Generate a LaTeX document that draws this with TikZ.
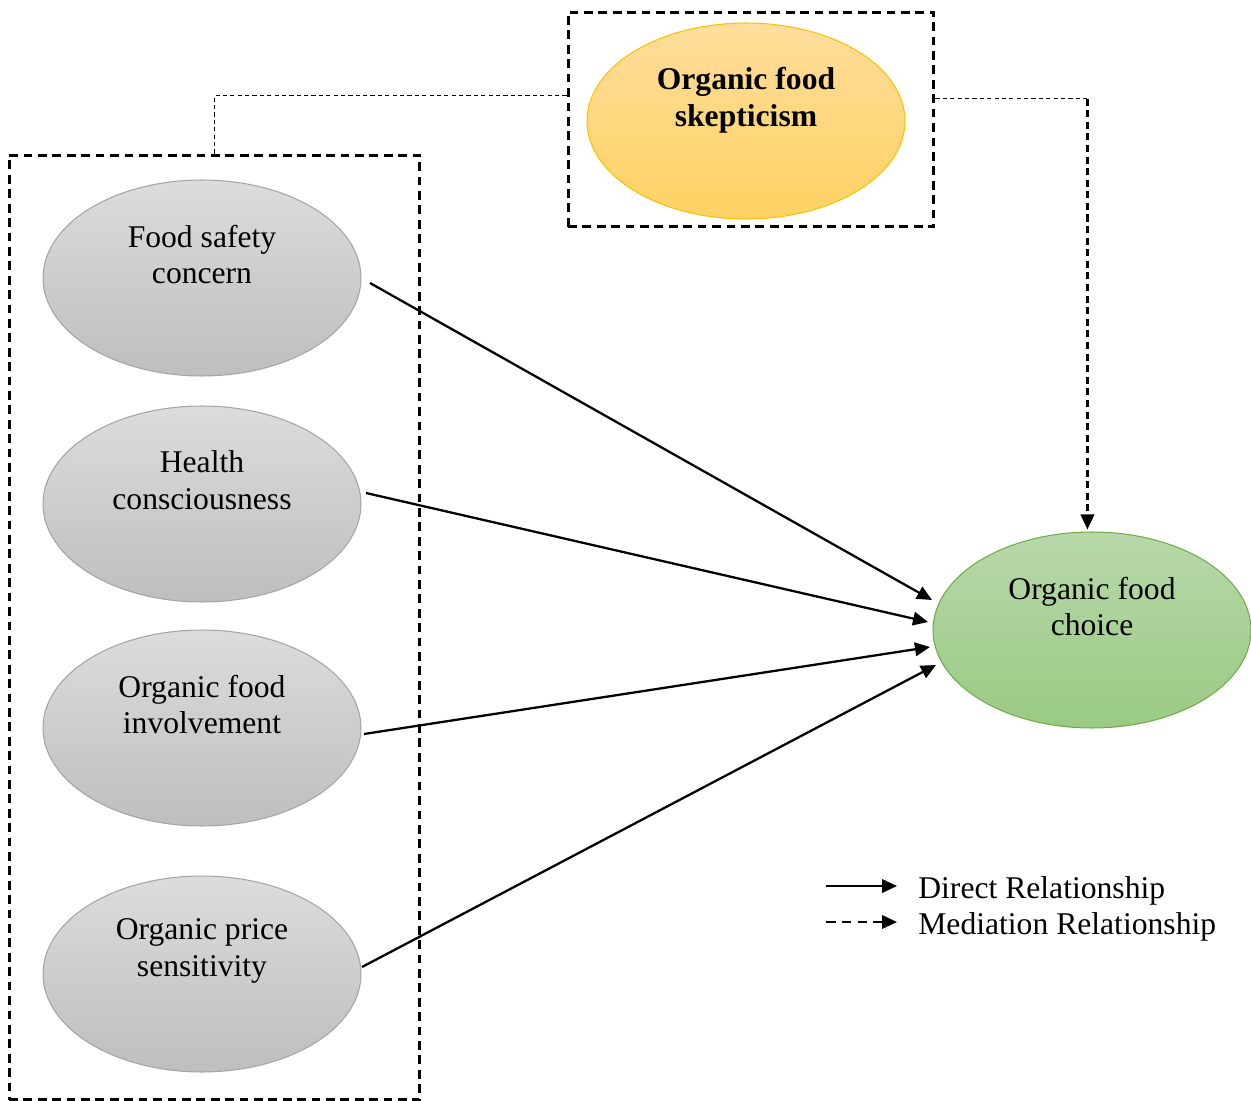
\documentclass[tikz,border=0pt]{standalone}
\usepackage{fontspec}
\setmainfont{Liberation Serif}
\usetikzlibrary{shapes.geometric,arrows.meta,calc}
\definecolor{graytop}{HTML}{DCDCDC}
\definecolor{graybot}{HTML}{BEBEBE}
\definecolor{ellgray}{HTML}{A5A5A5}
\definecolor{orgtop}{HTML}{FFDD9C}
\definecolor{orgbot}{HTML}{FFD263}
\definecolor{orgline}{HTML}{FFC000}
\definecolor{grntop}{HTML}{B8D8AA}
\definecolor{grnbot}{HTML}{9ACA83}
\definecolor{grnline}{HTML}{70AD47}
\begin{document}
\begin{tikzpicture}[x=0.02cm,y=-0.02cm,
  ell/.style={ellipse, minimum width=6.36cm, minimum height=3.92cm, inner sep=0pt, line width=0.6pt},
  grayell/.style={ell, draw=ellgray, top color=graytop, bottom color=graybot},
  lbl/.style={align=center, font=\fontsize{18}{21}\selectfont},
  tip/.style={-{Triangle[length=0.3cm,width=0.27cm]}},
  arr/.style={line width=1.3pt, tip},
  bigdash/.style={line width=1.7pt, dash pattern=on 5pt off 3.2pt},
  thindash/.style={line width=0.7pt, dash pattern=on 2.4pt off 1.8pt},
  meddash/.style={line width=1.3pt, dash pattern=on 4pt off 2.6pt},
]
\useasboundingbox (0,0) rectangle (1251,1101);

% boxes
\node[draw, bigdash, minimum width=8.22cm, minimum height=18.9cm, inner sep=0pt] (leftbox) at (214.5,627.5) {};
\node[draw, bigdash, minimum width=7.32cm, minimum height=4.3cm, inner sep=0pt] (topbox) at (751,119.5) {};

% ellipses
\node[ell, draw=orgline, top color=orgtop, bottom color=orgbot] (skep) at (746,121) {};
\node[lbl, font=\fontsize{18}{21}\selectfont\bfseries] (skept) at ($(skep.center)+(0,-21)$) {Organic food\\skepticism};

\node[grayell] (fs) at (202,278) {};
\node[lbl] (fst) at ($(fs.center)+(0,-23.5)$) {Food safety\\concern};
\node[grayell] (hc) at (202,504) {};
\node[lbl] (hct) at ($(hc.center)+(0,-23.5)$) {Health\\consciousness};
\node[grayell] (inv) at (202,728) {};
\node[lbl] (invt) at ($(inv.center)+(0,-23.5)$) {Organic food\\involvement};
\node[grayell] (ps) at (202,974) {};
\node[lbl] (pst) at ($(ps.center)+(0,-23.5)$) {Organic price\\sensitivity};

\node[ell, draw=grnline, top color=grntop, bottom color=grnbot] (choice) at (1092,630) {};
\node[lbl] (choicet) at ($(choice.center)+(0,-23.5)$) {Organic food\\choice};

% mediation connectors
\draw[thindash] ($(topbox.north west)+(0,85)$) -| (leftbox.north);
\draw[thindash] ($(topbox.north east)+(0,88)$) -- ($(topbox.north east)+(152,88)$) coordinate (c1);
\draw[meddash, tip] (c1) -- ($(c1 |- choice.north)+(0,-2)$);

% direct arrows
\draw[arr] ($(fs.center)+(168,5)$) -- ($(choice.center)+(-160,-30)$);
\draw[arr] ($(hc.center)+(164,-11)$) -- ($(choice.center)+(-164,-8)$);
\draw[arr] ($(inv.center)+(162,6)$) -- ($(choice.center)+(-162,17)$);
\draw[arr] ($(ps.center)+(160,-7)$) -- ($(choice.center)+(-156,35)$);

% legend
\coordinate (l1s) at (826,886);
\coordinate (l1e) at (897,886);
\coordinate (l2s) at (826,922);
\coordinate (l2e) at (897,922);
\draw[arr] (l1s) -- (l1e);
\draw[line width=1.3pt, dash pattern=on 5.5pt off 3.5pt, tip] (l2s) -- (l2e);
\node[lbl, anchor=west, inner sep=0pt] (leg1) at (918,891) {Direct Relationship};
\node[lbl, anchor=west, inner sep=0pt] (leg2) at (918,927) {Mediation Relationship};
\end{tikzpicture}
\end{document}
